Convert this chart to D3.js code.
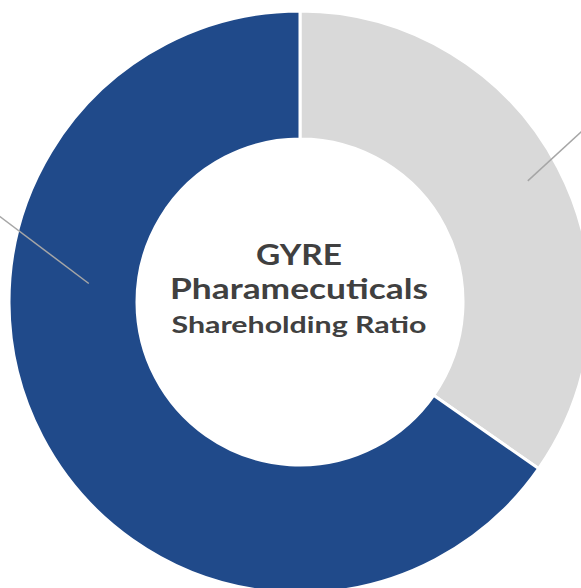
<!DOCTYPE html>
<html>
<head>
<meta charset="utf-8">
<script src="https://cdn.jsdelivr.net/npm/d3@7/dist/d3.min.js"></script>
<style>
  html, body { margin: 0; padding: 0; background: #ffffff; overflow: hidden; }
  svg { display: block; }
</style>
</head>
<body>
<div id="donut"></div>
<script>
// shareholders and their share (%)
var holders = ["Other shareholders", "GYRE Pharmaceuticals"];
var shares = [34.7, 65.3];
var colours = ["#d9d9d9", "#204a8a"];
// angle (deg from 12 o'clock) where each leader line leaves the ring
var leaderAngles = [62, 275];
var titleLines = ["GYRE", "Pharamecuticals", "Shareholding Ratio"];

/**
 * draws the donut
 */
function drawdonut() {
	var width = 581, height = 588;
	var cx = 300, cy = 302;
	var outer = 291, inner = 163;

	var svg = d3.select("#donut").append("svg")
		.attr("width", width)
		.attr("height", height);

	var g = svg.append("g")
		.attr("transform", "translate(" + cx + "," + cy + ")");

	var pie = d3.pie()
		.sort(null)
		.value(function(d) { return d; });
	var arc = d3.arc()
		.innerRadius(inner)
		.outerRadius(outer);

	g.selectAll(".slice")
		.data(pie(shares))
		.enter()
		.append("path")
		.attr("class", "slice")
		.attr("d", arc)
		.attr("fill", function(d, i) { return colours[i]; })
		.attr("stroke", "#ffffff")
		.attr("stroke-width", 3)
		.append("title")
		.text(function(d, i) { return holders[i] + ": " + shares[i] + "%"; });

	// leader lines heading out to labels beyond the frame
	var leaders = [
		{ a: leaderAngles[0], r: 258, dx: 100, dy: -92 },
		{ a: leaderAngles[1], r: 212, dx: -130, dy: -98 }
	];
	g.selectAll(".leader")
		.data(leaders)
		.enter()
		.append("line")
		.attr("class", "leader")
		.attr("x1", function(d) { return d.r * Math.sin(d.a * Math.PI / 180); })
		.attr("y1", function(d) { return -d.r * Math.cos(d.a * Math.PI / 180); })
		.attr("x2", function(d) { return d.r * Math.sin(d.a * Math.PI / 180) + d.dx; })
		.attr("y2", function(d) { return -d.r * Math.cos(d.a * Math.PI / 180) + d.dy; })
		.attr("stroke", "#a6a6a6")
		.attr("stroke-width", 1.5);

	// centre title
	var sizes = [28, 28, 23];
	var ys = [-37, -3, 31];
	var widths = [86, 258, 255];
	g.selectAll(".title")
		.data(titleLines)
		.enter()
		.append("text")
		.attr("class", "title")
		.attr("x", -1)
		.attr("y", function(d, i) { return ys[i]; })
		.attr("textLength", function(d, i) { return widths[i]; })
		.attr("lengthAdjust", "spacingAndGlyphs")
		.style("text-anchor", "middle")
		.style("font-family", "Lato, sans-serif")
		.style("font-weight", "bold")
		.style("font-size", function(d, i) { return sizes[i] + "px"; })
		.style("fill", "#404040")
		.text(function(d) { return d; });
}
drawdonut();
</script>
</body>
</html>
